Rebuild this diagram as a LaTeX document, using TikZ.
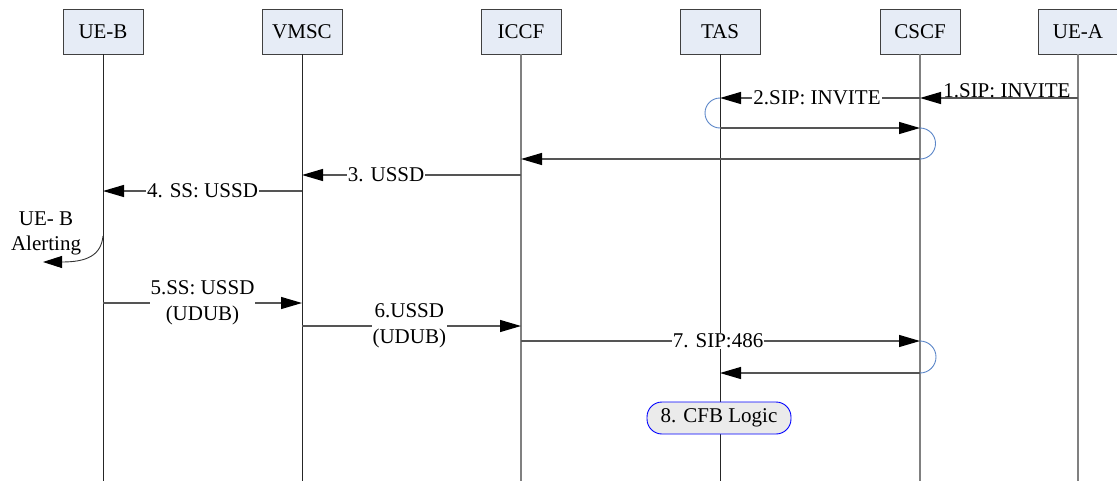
\documentclass[tikz,border=0pt]{standalone}
\usepackage{fontspec}
\setmainfont{Liberation Serif}
\usetikzlibrary{arrows.meta}
\definecolor{boxfill}{HTML}{E6ECF6}
\definecolor{boxline}{HTML}{404040}
\definecolor{msgc}{HTML}{555555}
\definecolor{lifegray}{HTML}{808080}
\definecolor{loopblue}{HTML}{5B86C8}
\definecolor{cfbfill}{HTML}{EBEBEB}
\newcommand{\lblfont}{\fontsize{21}{25.5}\selectfont}
\tikzset{
  ent/.style={draw=boxline, line width=0.9pt, fill=boxfill, minimum width=80pt,
    minimum height=45pt, inner sep=0pt, font=\lblfont, text=black},
  life/.style={line width=0.8pt, black!85},
  lifeg/.style={line width=1.6pt, lifegray},
  msg/.style={line width=1.2pt, msgc, -{Triangle[length=21pt,width=12pt,color=black]}},
  lab/.style={fill=white, inner sep=1pt, font=\lblfont, align=center, text=black},
  loopc/.style={line width=0.9pt, loopblue},
  cfb/.style={draw=blue, line width=0.9pt, fill=cfbfill, rounded corners=15pt,
    minimum width=144pt, minimum height=32pt, font=\lblfont, text=black},
}
\begin{document}
\begin{tikzpicture}[x=1pt,y=-1pt]
\useasboundingbox (0,0) rectangle (1117,482);

% participants
\node[ent] (ueb)  at (103,31.5)  {UE-B};
\node[ent] (vmsc) at (302,31.5)  {VMSC};
\node[ent] (iccf) at (521,31.5)  {ICCF};
\node[ent] (tas)  at (720,31.5)  {TAS};
\node[ent] (cscf) at (920,31.5)  {CSCF};
\node[ent] (uea)  at (1078,31.5) {UE-A};

% lifelines
\draw[life]  (ueb.south)  -- (ueb |- 0,481);
\draw[life]  (vmsc.south) -- (vmsc |- 0,481);
\draw[lifeg] (iccf.south) -- (iccf |- 0,481);
\draw[life]  (tas.south)  -- (tas |- 0,481);
\draw[lifeg] (cscf.south) -- (cscf |- 0,481);
\draw[lifeg] (uea.south)  -- (uea |- 0,481);

% 1-2: INVITE towards TAS and back
\draw[msg] (uea |- 0,98) -- node[font=\lblfont, text=black, anchor=base, inner sep=0pt, pos=0.45, yshift=1pt] {1.SIP: INVITE} (cscf |- 0,98);
\draw[msg] (cscf |- 0,98) -- node[lab, pos=0.515] {2.SIP: INVITE} (tas |- 0,98);
\draw[loopc] (tas |- 0,98) arc[start angle=90, end angle=270, radius=15pt];
\draw[msg] (tas |- 0,128) -- (cscf |- 0,128);
\draw[loopc] (cscf |- 0,128) arc[start angle=90, end angle=-90, radius=15.5pt];

% 3-4: USSD towards UE-B
\draw[msg] (cscf |- 0,159) -- (iccf |- 0,159);
\draw[msg] (iccf |- 0,175) -- node[lab, pos=0.616] {3. USSD} (vmsc |- 0,175);
\draw[msg] (vmsc |- 0,191) -- node[lab, pos=0.5] {4. SS: USSD} (ueb |- 0,191);

% alerting at UE-B
\node[font=\lblfont, align=center] (alert) at (46,233.5) {UE- B\\Alerting};
\coordinate (alertend) at (43,262);
\draw[line width=0.9pt, black!80, -{Triangle[length=19pt,width=12pt,color=black]}]
  (ueb |- 0,236) .. controls (101,256) and (86,262) .. (alertend);

% 5-7: UDUB response
\draw[msg] (ueb |- 0,303) -- node[lab, pos=0.5] {5.SS: USSD\\(UDUB)} (vmsc |- 0,303);
\draw[msg] (vmsc |- 0,326) -- node[lab, pos=0.49] {6.USSD\\(UDUB)} (iccf |- 0,326);
\draw[msg] (iccf |- 0,341) -- node[lab, pos=0.494] {7. SIP:486} (cscf |- 0,341);
\draw[loopc] (cscf |- 0,341) arc[start angle=90, end angle=-90, radius=16pt];
\draw[msg] (cscf |- 0,373) -- (tas |- 0,373);

% 8: call forwarding logic
\node[cfb] (logic) at (719,418) {8. CFB Logic};
\end{tikzpicture}
\end{document}
